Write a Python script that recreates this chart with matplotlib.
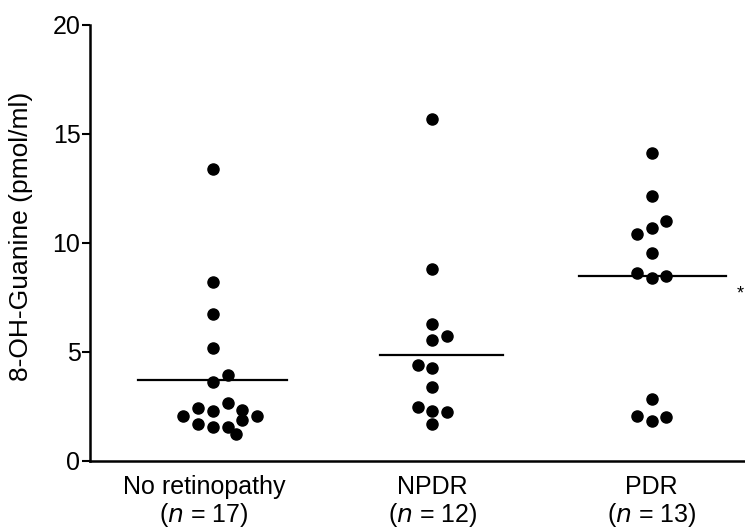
import matplotlib
matplotlib.use("Agg")
import matplotlib.pyplot as plt
import numpy as np

plt.rcParams['font.family'] = ['Liberation Sans', 'DejaVu Sans']

categories = ["No retinopathy\n($n$ = 17)", "NPDR\n($n$ = 12)", "PDR\n($n$ = 13)"]
no_retinopathy = [13.39, 8.22, 6.73, 5.18, 3.94, 3.64, 2.65, 2.45, 2.29, 2.34,
                  2.06, 2.08, 1.88, 1.68, 1.57, 1.57, 1.24]
npdr = [15.67, 8.79, 6.27, 5.75, 5.55, 4.40, 4.28, 3.38, 2.46, 2.31, 2.23, 1.68]
pdr = [14.11, 12.17, 11.02, 10.70, 10.41, 9.53, 8.61, 8.50, 8.41, 2.84, 2.08, 2.03, 1.85]
group_means = [3.72, 4.86, 8.50]
yticks = [0, 5, 10, 15, 20]

# swarm column index for each point (layout only)
cols = [
    [0, 0, 0, 0, 1, 0, 1, -1, 0, 2, -2, 3, 2, -1, 0, 1, 1.6],
    [0, 0, 0, 1, 0, -1, 0, 0, -1, 0, 1, 0],
    [0, 0, 1, 0, -1, 0, -1, 1, 0, 0, -1, 1, 0],
]
col_step = 0.067
line_extent = [(-0.34, 0.34), (-0.236, 0.32), (-0.33, 0.34)]
label_shift = [-0.04, 0.0, 0.0]

fig = plt.figure(figsize=(7.45, 5.31), dpi=100)
ax = fig.add_axes([0.121, 0.132, 0.879, 0.821])

groups = [no_retinopathy, npdr, pdr]
for i, (vals, c) in enumerate(zip(groups, cols)):
    x = i + np.array(c) * col_step
    ax.plot(x, vals, 'o', color='black', markersize=8, clip_on=False)
    l, r = line_extent[i]
    ax.plot([i + l, i + r], [group_means[i]] * 2, color='black', lw=1.6)

ax.set_xlim(-0.559, 2.425)
ax.set_ylim(0, 20)
ax.set_yticks(yticks)
ax.set_yticklabels([str(t) for t in yticks], fontsize=18)
ax.set_xticks([i + s for i, s in enumerate(label_shift)])
ax.set_xticklabels(categories, fontsize=18, linespacing=1.1)
ax.tick_params(axis='x', length=0, pad=10)
ax.tick_params(axis='y', length=6, width=1.5, direction='out', pad=1)
ax.set_ylabel("8-OH-Guanine (pmol/ml)", fontsize=19)
ax.yaxis.set_label_coords(-0.088, 0.515)

for s in ['top', 'right']:
    ax.spines[s].set_visible(False)
for s in ['left', 'bottom']:
    ax.spines[s].set_linewidth(1.8)

fig.text(0.998, 1 - 294 / 531, "*", fontsize=13, ha='right', va='center')

fig.savefig("out.png", dpi=100)
